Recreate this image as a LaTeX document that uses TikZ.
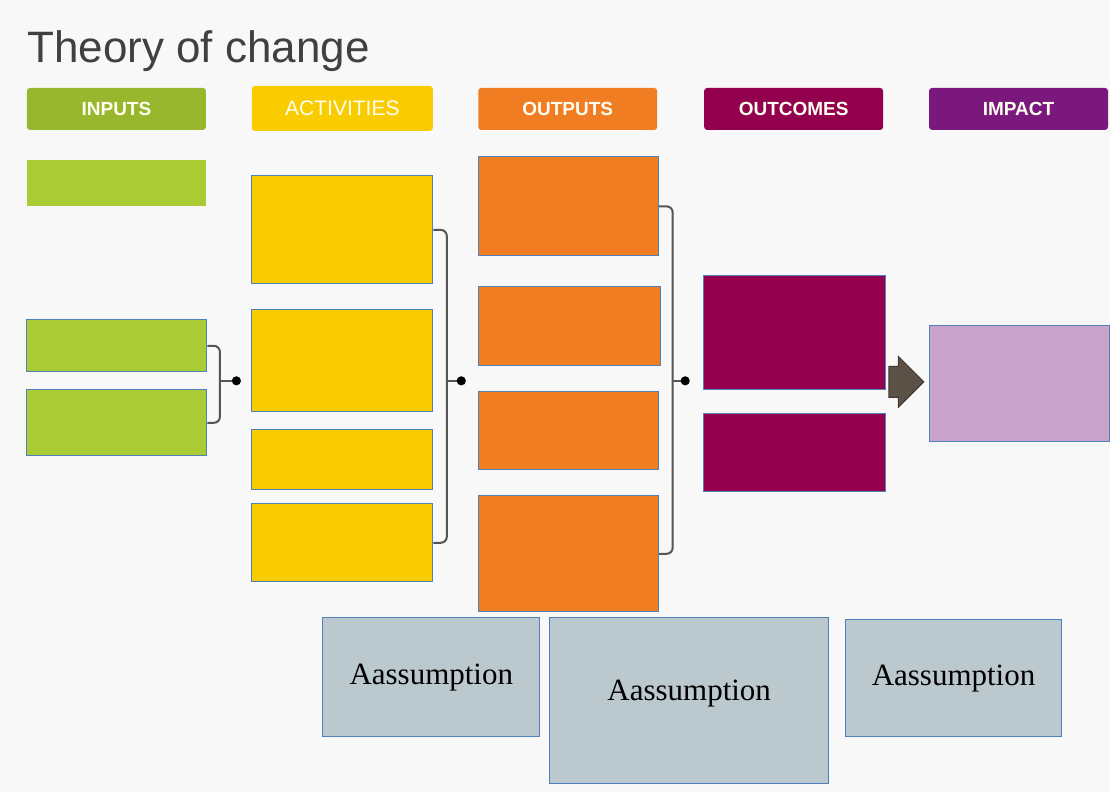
\documentclass[tikz,border=0pt]{standalone}
\usepackage{fontspec}
\setmainfont{Liberation Serif}
\setsansfont{Liberation Sans}
\usepackage{tikz}
\usetikzlibrary{arrows.meta}
\usetikzlibrary{shapes.arrows}

\definecolor{bgcol}{HTML}{F8F8F8}
\definecolor{greencol}{HTML}{AACB33}
\definecolor{yellowcol}{HTML}{F9CC00}
\definecolor{orangecol}{HTML}{F07D22}
\definecolor{maroncol}{HTML}{93004D}
\definecolor{purplecol}{HTML}{7B187E}
\definecolor{lilaccol}{HTML}{C9A3C9}
\definecolor{assumcol}{HTML}{BBC8CE}
\definecolor{linecol}{HTML}{4F81BD}
\definecolor{brackcol}{HTML}{555555}
\definecolor{flowcol}{HTML}{5B5147}

\begin{document}
\begin{tikzpicture}[x=0.5pt, y=-0.5pt,
  box/.style={draw=linecol, line width=0.5pt, inner sep=0pt, minimum width=90pt},
  head/.style={rounded corners=1.5pt, inner sep=0pt, minimum width=89.5pt,
    minimum height=21pt, text=white!94!yellow, font=\sffamily\bfseries\fontsize{9.5}{12}\selectfont},
  assum/.style={box, fill=assumcol, font=\fontsize{15.5}{18}\selectfont},
  brackets/.style={draw=brackcol, line width=1pt, rounded corners=3pt},
  stub/.style={draw=brackcol, line width=1pt, -{Circle[length=4.5pt, fill=black, color=black]}}]

 \fill [bgcol] (0,0) rectangle (1110,792);

 \node [anchor=base west, inner sep=0pt, text=black!75,
        font=\sffamily\fontsize{22}{26}\selectfont] (title) at (27,63)
     {Theory of change};

 % column headers
 \node [head, fill=greencol!90!black] (h_inputs) at (116.5,109) {INPUTS};
 \node [head, fill=yellowcol, minimum width=90.5pt, minimum height=22.5pt,
        font=\sffamily\fontsize{10.5}{12}\selectfont] (h_activities) at (342.5,108.5) {ACTIVITIES};
 \node [head, fill=orangecol] (h_outputs) at (568,109) {OUTPUTS};
 \node [head, fill=maroncol] (h_outcomes) at (794,109) {OUTCOMES};
 \node [head, fill=purplecol] (h_impact) at (1019,109) {IMPACT};

 % inputs
 \node [box, draw=none, fill=greencol, minimum width=89.5pt, minimum height=23pt] (input_1) at (116.5,183) {};
 \node [box, fill=greencol, minimum height=26pt] (input_2) at (117,346) {};
 \node [box, fill=greencol, minimum height=33pt] (input_3) at (117,423) {};

 % activities
 \node [box, fill=yellowcol, minimum width=90.5pt, minimum height=54pt] (activity_1) at (342.5,230) {};
 \node [box, fill=yellowcol, minimum width=90.5pt, minimum height=51pt] (activity_2) at (342.5,361) {};
 \node [box, fill=yellowcol, minimum width=90.5pt, minimum height=30pt] (activity_3) at (342.5,460) {};
 \node [box, fill=yellowcol, minimum width=90.5pt, minimum height=39pt] (activity_4) at (342.5,543) {};

 % outputs
 \node [box, fill=orangecol, minimum height=49.5pt] (output_1) at (569,206.5) {};
 \node [box, fill=orangecol, minimum width=91pt, minimum height=39.5pt] (output_2) at (570,326.5) {};
 \node [box, fill=orangecol, minimum height=39pt] (output_3) at (569,431) {};
 \node [box, fill=orangecol, minimum height=58pt] (output_4) at (569,554) {};

 % outcomes and impact
 \node [box, fill=maroncol, minimum width=91pt, minimum height=57pt] (outcome_1) at (795,333) {};
 \node [box, fill=maroncol, minimum width=91pt, minimum height=39pt] (outcome_2) at (795,453) {};
 \node [box, fill=lilaccol, minimum height=58pt] (impact) at (1020,384) {};

 \node [single arrow, fill=flowcol, draw=flowcol!70!black, line width=0.5pt,
        minimum height=17.5pt, minimum width=25pt, single arrow head extend=5pt,
        inner xsep=0pt, inner ysep=7.5pt] (flow) at (899,382) {};

 % assumptions
 \node [assum, minimum width=108.5pt, minimum height=59.5pt] (assum_1) at (431.5,677.5) {Aassumption};
 \node [assum, minimum width=139.5pt, minimum height=83pt, text depth=10pt] (assum_2) at (689.5,701) {Aassumption};
 \node [assum, minimum width=108pt, minimum height=58.5pt] (assum_3) at (954,678.5) {Aassumption};

 % brackets
 \coordinate (join_1) at (220,381);
 \coordinate (dot_1) at (241,381);
 \coordinate (join_2) at (447,381);
 \coordinate (dot_2) at (466,381);
 \coordinate (join_3) at (673,381);
 \coordinate (dot_3) at (690,381);

 \draw [brackets] (input_2.east) -| (join_1) |- (input_3.east);
 \draw [brackets] (activity_1.east) -| (join_2) |- (activity_4.east);
 \draw [brackets] (output_1.east) -| (join_3) |- (output_4.east);

 \draw [stub] (join_1) -- (dot_1);
 \draw [stub] (join_2) -- (dot_2);
 \draw [stub] (join_3) -- (dot_3);

\end{tikzpicture}
\end{document}
